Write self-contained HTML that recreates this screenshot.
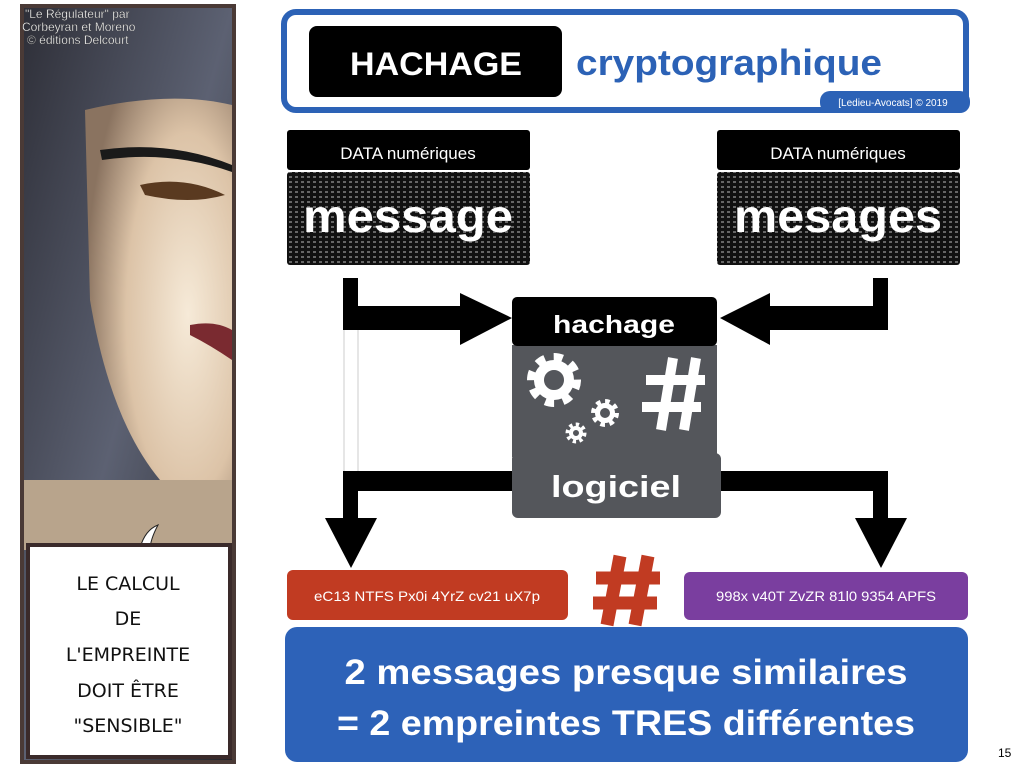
<!DOCTYPE html>
<html><head><meta charset="utf-8"><style>
html,body{margin:0;padding:0;background:#fff;width:1024px;height:768px;overflow:hidden}
</style></head><body>
<svg width="1024" height="768" viewBox="0 0 1024 768" xmlns="http://www.w3.org/2000/svg" font-family="Liberation Sans, sans-serif">
<defs>
<linearGradient id="hair" x1="0" y1="0" x2="1" y2="1">
<stop offset="0" stop-color="#2e2f38"/><stop offset="0.5" stop-color="#5c6172"/><stop offset="1" stop-color="#25252b"/></linearGradient>
<radialGradient id="skin" cx="0.7" cy="0.5" r="0.7">
<stop offset="0" stop-color="#f6ead8"/><stop offset="0.6" stop-color="#dcc3a7"/><stop offset="1" stop-color="#8a7360"/></radialGradient>
<pattern id="bits" width="6" height="5" patternUnits="userSpaceOnUse">
<rect width="6" height="5" fill="#111"/><rect x="1" y="1" width="3" height="2" fill="#666"/></pattern>
</defs>
<!-- comic panel -->
<rect x="20" y="4" width="216" height="760" fill="#4a3a36"/>
<rect x="24" y="8" width="208" height="752" fill="url(#hair)"/>
<path d="M85 110 Q170 90 232 105 L232 530 Q200 520 160 480 Q110 420 90 300 Z" fill="url(#skin)"/>
<path d="M100 150 Q170 140 232 165 L232 172 Q170 150 102 160Z" fill="#1a1a1a"/>
<path d="M140 185 Q185 175 225 195 Q190 205 145 195Z" fill="#5a3a20"/>
<path d="M190 325 Q215 320 232 330 L232 360 Q210 345 190 335Z" fill="#7a2a30"/>
<rect x="24" y="480" width="208" height="70" fill="#b8a48c"/>
<path d="M140 548 Q145 530 158 525 Q150 540 150 550Z" fill="#fff" stroke="#222"/>
<rect x="28" y="545" width="202" height="212" fill="#fff" stroke="#3a2a2a" stroke-width="4"/>
<g font-family="DejaVu Sans, sans-serif" font-size="19" fill="#111" text-anchor="middle">
<text x="128" y="590">LE CALCUL</text><text x="128" y="625">DE</text>
<text x="128" y="661">L'EMPREINTE</text><text x="128" y="697">DOIT ÊTRE</text>
<text x="128" y="732">"SENSIBLE"</text></g>
<g font-size="12" fill="#fff" stroke="#333" stroke-width="0.3"><text x="25" y="18">"Le Régulateur" par</text>
<text x="22" y="31">Corbeyran et Moreno</text><text x="27" y="44">© éditions Delcourt</text></g>
<!-- title -->
<rect x="284" y="12" width="682" height="98" rx="12" fill="#fff" stroke="#2c62b6" stroke-width="6"/>
<rect x="309" y="26" width="253" height="71" rx="8" fill="#000"/>
<text x="436" y="75" fill="#fff" font-weight="bold" font-size="32" text-anchor="middle" textLength="172" lengthAdjust="spacingAndGlyphs">HACHAGE</text>
<text x="576" y="75" fill="#2c62b6" font-weight="bold" font-size="36" textLength="306" lengthAdjust="spacingAndGlyphs">cryptographique</text>
<rect x="820" y="91" width="150" height="22" rx="10" fill="#2c62b6"/>
<text x="893" y="106" fill="#fff" font-size="10" text-anchor="middle">[Ledieu-Avocats] © 2019</text>
<!-- data boxes -->
<g>
<rect x="287" y="130" width="243" height="40" rx="3" fill="#000"/>
<text x="408" y="159" fill="#fff" font-size="17" text-anchor="middle">DATA numériques</text>
<rect x="287" y="172" width="243" height="93" rx="3" fill="url(#bits)"/>
<text x="408" y="232" fill="#fff" font-weight="bold" font-size="46" text-anchor="middle" textLength="210" lengthAdjust="spacingAndGlyphs">message</text>
<rect x="717" y="130" width="243" height="40" rx="3" fill="#000"/>
<text x="838" y="159" fill="#fff" font-size="17" text-anchor="middle">DATA numériques</text>
<rect x="717" y="172" width="243" height="93" rx="3" fill="url(#bits)"/>
<text x="838" y="232" fill="#fff" font-weight="bold" font-size="46" text-anchor="middle" textLength="208" lengthAdjust="spacingAndGlyphs">mesages</text>
</g>
<!-- arrows -->
<g fill="#000">
<rect x="343" y="278" width="15" height="52"/><rect x="343" y="306" width="120" height="24"/>
<polygon points="460,293 512,318 460,345"/>
<rect x="873" y="278" width="15" height="52"/><rect x="768" y="306" width="120" height="24"/>
<polygon points="770,293 720,318 770,345"/>
<rect x="343" y="471" width="170" height="20"/><rect x="343" y="471" width="15" height="50"/>
<polygon points="325,518 377,518 351,568"/>
<rect x="718" y="471" width="170" height="20"/><rect x="873" y="471" width="15" height="50"/>
<polygon points="855,518 907,518 881,568"/>
</g>
<line x1="344" y1="330" x2="344" y2="471" stroke="#ccc" stroke-width="1"/>
<line x1="358" y1="330" x2="358" y2="471" stroke="#ccc" stroke-width="1"/>
<!-- central -->
<rect x="512" y="345" width="205" height="112" fill="#54565b"/>
<rect x="512" y="297" width="205" height="49" rx="5" fill="#000"/>
<text x="614" y="333" fill="#fff" font-weight="bold" font-size="25" text-anchor="middle" textLength="122" lengthAdjust="spacingAndGlyphs">hachage</text>
<g fill="none" stroke="#fff">
<circle cx="554" cy="380" r="22" stroke-width="10" stroke-dasharray="8.6 8.6"/>
<circle cx="554" cy="380" r="15" stroke-width="10"/>
<circle cx="605" cy="413" r="11" stroke-width="6" stroke-dasharray="4.3 4.3"/>
<circle cx="605" cy="413" r="7.5" stroke-width="5"/>
<circle cx="576" cy="433" r="8" stroke-width="5" stroke-dasharray="3.1 3.1"/>
<circle cx="576" cy="433" r="5" stroke-width="4"/>
</g>
<g stroke="#fff" stroke-width="10">
<line x1="661" y1="430" x2="673" y2="358"/><line x1="684" y1="430" x2="696" y2="358"/>
<line x1="646" y1="380" x2="705" y2="380"/><line x1="642" y1="407" x2="701" y2="407"/>
</g>
<rect x="512" y="453" width="209" height="65" rx="6" fill="#54565b"/>
<text x="616" y="497" fill="#fff" font-weight="bold" font-size="31" text-anchor="middle" textLength="130" lengthAdjust="spacingAndGlyphs">logiciel</text>
<!-- results -->
<rect x="287" y="570" width="281" height="50" rx="6" fill="#c13b22"/>
<text x="427" y="601" fill="#fff" font-size="14" text-anchor="middle" textLength="226" lengthAdjust="spacingAndGlyphs">eC13 NTFS Px0i 4YrZ cv21 uX7p</text>
<g stroke="#c13b22" stroke-width="13">
<line x1="607" y1="625" x2="620" y2="556"/><line x1="635" y1="625" x2="648" y2="556"/>
<line x1="596" y1="578" x2="660" y2="578"/><line x1="593" y1="603" x2="657" y2="603"/>
</g>
<rect x="684" y="572" width="284" height="48" rx="6" fill="#7a3e9f"/>
<text x="826" y="601" fill="#fff" font-size="14" text-anchor="middle" textLength="220" lengthAdjust="spacingAndGlyphs">998x v40T ZvZR 81l0 9354 APFS</text>
<rect x="285" y="627" width="683" height="135" rx="12" fill="#2d62b8"/>
<text x="626" y="684" fill="#fff" font-weight="bold" font-size="35" text-anchor="middle" textLength="563" lengthAdjust="spacingAndGlyphs">2 messages presque similaires</text>
<text x="626" y="735" fill="#fff" font-weight="bold" font-size="35" text-anchor="middle" textLength="578" lengthAdjust="spacingAndGlyphs">= 2 empreintes TRES différentes</text>
<text x="998" y="757" fill="#000" font-size="12">15</text>
</svg>
</body></html>
